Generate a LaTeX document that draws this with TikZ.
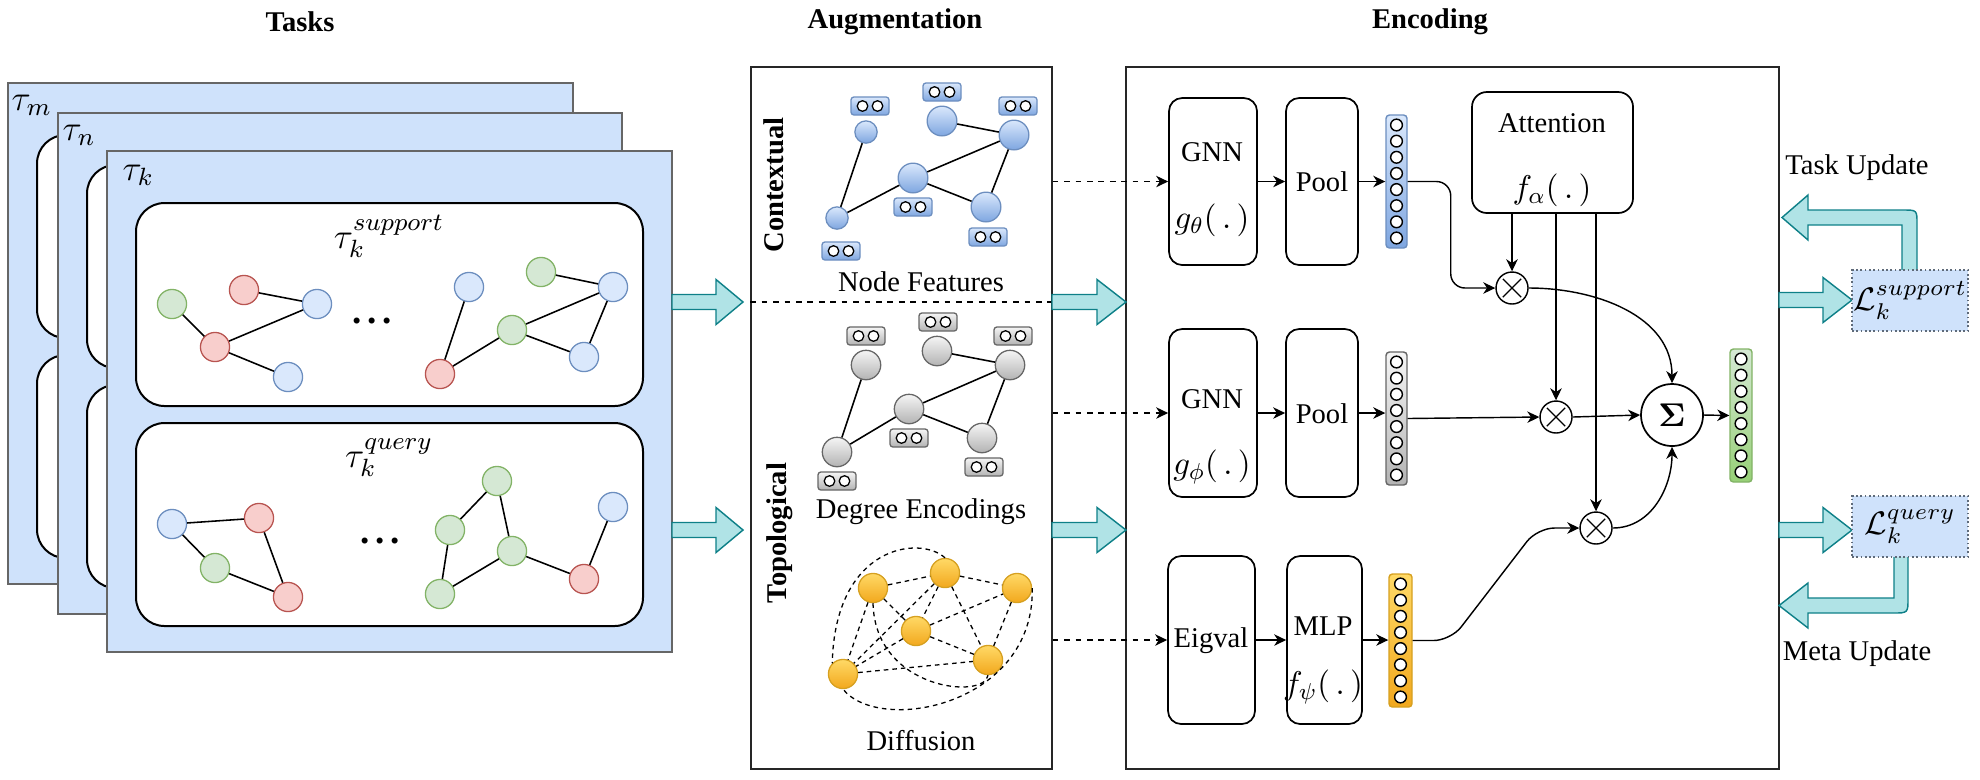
\RequirePackage{fix-cm}
\documentclass[tikz,border=0pt]{standalone}
\usepackage[no-math]{fontspec}
\setmainfont{Liberation Serif}
\usetikzlibrary{arrows.meta,calc,fit}

\definecolor{taskblue}{HTML}{CFE2FB}
\definecolor{taskd}{HTML}{666666}
\definecolor{nbf}{HTML}{DAE8FC}
\definecolor{nbd}{HTML}{6C8EBF}
\definecolor{nrf}{HTML}{F8CECC}
\definecolor{nrd}{HTML}{B85450}
\definecolor{ngf}{HTML}{D5E8D4}
\definecolor{ngd}{HTML}{82B366}
\definecolor{cbtop}{HTML}{DAE8FC}
\definecolor{cbbot}{HTML}{7EA6E0}
\definecolor{grtop}{HTML}{F5F5F5}
\definecolor{grbot}{HTML}{B3B3B3}
\definecolor{grd}{HTML}{666666}
\definecolor{ortop}{HTML}{FFD966}
\definecolor{orbot}{HTML}{F2A81D}
\definecolor{ord}{HTML}{D6A020}
\definecolor{gntop}{HTML}{D5E8D4}
\definecolor{gnbot}{HTML}{97D077}
\definecolor{blkf}{HTML}{B0E3E6}
\definecolor{blkd}{HTML}{0E8088}
\definecolor{lboxd}{HTML}{5F6B7A}

\tikzset{
  taskbox/.style={draw=taskd, fill=taskblue, line width=0.6pt, inner sep=0pt},
  innerbox/.style={draw=black, fill=white, rounded corners=10pt, line width=0.7pt, inner sep=0pt},
  plainbox/.style={draw=black!85, line width=0.5pt, inner sep=0pt},
  procbox/.style={draw=black, line width=0.6pt, rounded corners=4.6pt, inner sep=0pt},
  tn/.style={circle, minimum size=10.2pt, inner sep=0pt, line width=0.45pt},
  tnb/.style={tn, draw=nbd, fill=nbf},
  tnr/.style={tn, draw=nrd, fill=nrf},
  tng/.style={tn, draw=ngd, fill=ngf},
  tedge/.style={line width=0.55pt},
  cbn/.style={circle, inner sep=0pt, draw=nbd, top color=cbtop, bottom color=cbbot, line width=0.45pt},
  cgn/.style={circle, inner sep=0pt, minimum size=10.3pt, draw=grd, top color=grtop, bottom color=grbot, line width=0.45pt},
  con/.style={circle, inner sep=0pt, minimum size=10.2pt, draw=ord, top color=ortop, bottom color=orbot, line width=0.45pt},
  fb/.style={rounded corners=1pt, minimum width=13.3pt, minimum height=6.3pt, inner sep=0pt, line width=0.45pt},
  fbb/.style={fb, draw=nbd, top color=cbtop, bottom color=cbbot},
  fbg/.style={fb, draw=grd, top color=grtop, bottom color=grbot},
  fcirc/.style={circle, draw=black, fill=white, minimum size=3.7pt, inner sep=0pt, line width=0.45pt},
  vecb/.style={draw=nbd, top color=cbtop, bottom color=cbbot, rounded corners=1.2pt, inner sep=0pt, line width=0.5pt},
  vecg/.style={draw=grd, top color=grtop, bottom color=grbot, rounded corners=1.2pt, inner sep=0pt, line width=0.5pt},
  veco/.style={draw=ord, top color=ortop, bottom color=orbot, rounded corners=1.2pt, inner sep=0pt, line width=0.5pt},
  vecn/.style={draw=ngd, top color=gntop, bottom color=gnbot, rounded corners=1.2pt, inner sep=0pt, line width=0.5pt},
  vcirc/.style={circle, draw=black, fill=white, minimum size=4.1pt, inner sep=0pt, line width=0.5pt},
  dedge/.style={line width=0.45pt, dash pattern=on 1.6pt off 1.4pt},
  arr/.style={line width=0.5pt, -{Stealth[length=4.2pt,width=4pt,inset=1.3pt]}},
  darr/.style={arr, dash pattern=on 2pt off 2pt},
  blk/.style={draw=blkd, fill=blkf, line width=0.5pt, line join=miter},
  xnode/.style={circle, draw=black, fill=white, minimum size=11.2pt, inner sep=0pt, line width=0.5pt,
    path picture={\draw[line width=0.45pt]
      ($(path picture bounding box.center)+(-3.2pt,-3.2pt)$) -- ($(path picture bounding box.center)+(3.2pt,3.2pt)$)
      ($(path picture bounding box.center)+(-3.2pt,3.2pt)$) -- ($(path picture bounding box.center)+(3.2pt,-3.2pt)$);}},
  lbox/.style={draw=lboxd, fill=taskblue, dash pattern=on 0.6pt off 0.9pt, line width=0.5pt, inner sep=0pt},
  ttl/.style={font=\fontsize{10}{12}\selectfont\bfseries},
  tlbl/.style={font=\fontsize{12.5}{15}\selectfont},
  mlbl/.style={font=\fontsize{11.5}{14}\selectfont},
  dots/.style={font=\fontsize{13}{13}\selectfont\bfseries, inner sep=0pt},
}

\newcommand\blockarr[4]{%
  \draw[blk] (#1,#2-7.5) -- (#3-#4,#2-7.5) -- (#3-#4,#2-22.5) -- (#3,#2) -- (#3-#4,#2+22.5) -- (#3-#4,#2+7.5) -- (#1,#2+7.5) -- cycle;}
\newcommand\feat[4]{%
  \node[#4] (#1) at (#2,#3) {};
  \node[fcirc] (#1a) at (#2-7.5,#3) {};
  \node[fcirc] (#1b) at (#2+7.5,#3) {};}
\newcommand\vect[6]{%
  \node[#2, fit={(#3,#4) (#5,#6)}] (#1) {};
  \foreach \k in {0,...,7} {\node[vcirc] (#1c\k) at ($(#1.center)+(0,{-56.5+16.14*\k})$) {};}}

\begin{document}
\begin{tikzpicture}[x=0.35pt,y=-0.35pt, font=\fontsize{10}{12}\selectfont]
\useasboundingbox (0,0) rectangle (1980,779);

% ---------- titles
\node[ttl] (tTasks) at (300,22) {Tasks};
\node[ttl] (tAug) at (895,22) {Augmentation};
\node[ttl] (tEnc) at (1430,22) {Encoding};

% ---------- task stack
\node[taskbox, fit={(8,83) (573,584)}] (taum) {};
\node[innerbox, fit={(37,135) (544,338)}] (taumS) {};
\node[innerbox, fit={(37,355) (544,558)}] (taumQ) {};
\node[tlbl, anchor=base west, inner sep=0pt] (taumL) at (11,110) {$\tau_m$};

\node[taskbox, fit={(58,113) (622,614)}] (taun) {};
\node[innerbox, fit={(87,165) (593,368)}] (taunS) {};
\node[innerbox, fit={(87,385) (593,588)}] (taunQ) {};
\node[tlbl, anchor=base west, inner sep=0pt] (taunL) at (62,140) {$\tau_n$};

\node[taskbox, fit={(107,151) (672,652)}] (tauk) {};
\node[innerbox, fit={(136,203) (643,406)}] (taukS) {};
\node[innerbox, fit={(136,423) (643,626)}] (taukQ) {};
\node[tlbl, anchor=base west, inner sep=0pt] (taukL) at (122,180) {$\tau_k$};

\node[tlbl, anchor=base, inner sep=0pt] (supL) at (389,248) {$\tau_k^{support}$};
\node[tlbl, anchor=base, inner sep=0pt] (qryL) at (389,467) {$\tau_k^{query}$};

% support graphs
\node[tng] (s1) at (172,304) {};
\node[tnr] (s2) at (244,290) {};
\node[tnb] (s3) at (317,304) {};
\node[tnr] (s4) at (215,347) {};
\node[tnb] (s5) at (288,377) {};
\node[dots] (sdots) at (372,321) {.\kern2pt.\kern2pt.};
\node[tnb] (s6) at (469,287) {};
\node[tng] (s7) at (541,272) {};
\node[tnb] (s8) at (613,287) {};
\node[tng] (s9) at (512,330) {};
\node[tnb] (s10) at (584,357) {};
\node[tnr] (s11) at (440,374) {};
\draw[tedge] (s1) -- (s4) (s2) -- (s3) (s4) -- (s3) (s4) -- (s5)
  (s6) -- (s11) (s11) -- (s9) (s9) -- (s8) (s7) -- (s8) (s9) -- (s10) (s10) -- (s8);

% query graphs
\node[tnb] (q1) at (172,524) {};
\node[tnr] (q2) at (259,518) {};
\node[tng] (q3) at (215,568) {};
\node[tnr] (q4) at (288,597) {};
\node[dots] (qdots) at (380,541) {.\kern2pt.\kern2pt.};
\node[tng] (q5) at (497,481) {};
\node[tng] (q6) at (450,530) {};
\node[tng] (q7) at (512,551) {};
\node[tng] (q8) at (440,594) {};
\node[tnb] (q9) at (613,507) {};
\node[tnr] (q10) at (584,579) {};
\draw[tedge] (q1) -- (q2) (q1) -- (q3) (q3) -- (q4) (q2) -- (q4)
  (q5) -- (q6) (q5) -- (q7) (q6) -- (q8) (q8) -- (q7) (q7) -- (q10) (q10) -- (q9);

% ---------- augmentation
\node[plainbox, fit={(751,67) (1052,769)}] (aug) {};
\coordinate (divy) at (0,302);
\draw[line width=0.5pt, dash pattern=on 2pt off 2pt] (aug.west |- divy) -- (aug.east |- divy);
\node[font=\fontsize{10}{12}\selectfont\bfseries, rotate=90] (ctx) at (774,185) {Contextual};
\node[font=\fontsize{10}{12}\selectfont\bfseries, rotate=90] (topo) at (780,533) {Topological};

% contextual graph
\node[cbn, minimum size=7.8pt] (c1) at (866,132) {};
\node[cbn, minimum size=10.4pt] (c2) at (942,121) {};
\node[cbn, minimum size=10.4pt] (c3) at (1014,135) {};
\node[cbn, minimum size=10.4pt] (c4) at (913,178) {};
\node[cbn, minimum size=10.4pt] (c5) at (986,207) {};
\node[cbn, minimum size=7.8pt] (c6) at (837,218) {};
\draw[tedge] (c1) -- (c6) (c6) -- (c4) (c4) -- (c3) (c2) -- (c3) (c3) -- (c5) (c4) -- (c5);
\feat{f1}{870}{106}{fbb}
\feat{f2}{942}{92}{fbb}
\feat{f3}{1018}{106}{fbb}
\feat{f4}{913}{207}{fbb}
\feat{f5}{988}{237}{fbb}
\feat{f6}{841}{251}{fbb}
\node (nfT) at (921,282) {Node Features};

% degree graph
\node[cgn] (g1) at (866,365) {};
\node[cgn] (g2) at (937,351) {};
\node[cgn] (g3) at (1010,365) {};
\node[cgn] (g4) at (909,409) {};
\node[cgn] (g5) at (982,438) {};
\node[cgn] (g6) at (837,452) {};
\draw[tedge] (g1) -- (g6) (g6) -- (g4) (g4) -- (g3) (g2) -- (g3) (g3) -- (g5) (g4) -- (g5);
\feat{gf1}{866}{336}{fbg}
\feat{gf2}{938}{322}{fbg}
\feat{gf3}{1013}{336}{fbg}
\feat{gf4}{909}{438}{fbg}
\feat{gf5}{984}{467}{fbg}
\feat{gf6}{837}{481}{fbg}
\node (deT) at (921,512) {Degree Encodings};

% diffusion graph
\node[con] (d1) at (873,588) {};
\node[con] (d2) at (945,573) {};
\node[con] (d3) at (1017,588) {};
\node[con] (d4) at (916,631) {};
\node[con] (d5) at (988,660) {};
\node[con] (d6) at (843,674) {};
\draw[dedge] (d1) -- (d2) (d2) -- (d3) (d1) -- (d4) (d2) -- (d4) (d2) -- (d6) (d1) -- (d6)
  (d4) -- (d3) (d4) -- (d6) (d4) -- (d5) (d2) -- (d5) (d3) -- (d5) (d6) -- (d5);
\draw[dedge] (d1.south) .. controls (875,690) and (985,700) .. (d5.south);
\draw[dedge] (d2.north) .. controls (920,535) and (835,545) .. (d6.north west);
\draw[dedge] (d3.east) .. controls (1035,705) and (880,735) .. (d6.south);
\node (diT) at (921,741) {Diffusion};

% ---------- encoding
\node[plainbox, fit={(1126,67) (1779,769)}] (enc) {};

\node[procbox, fit={(1169,98) (1257,265)}] (gnn1) {};
\node (gnn1T) at (1212,152) {GNN};
\node[mlbl] (gnn1M) at (1212,220) {$g_{\theta}(\,.\,)$};
\node[procbox, fit={(1286,98) (1358,265)}] (pool1) {};
\node (pool1T) at (1322,182) {Pool};
\vect{v1}{vecb}{1386}{115}{1407}{248}

\node[procbox, fit={(1169,329) (1257,497)}] (gnn2) {};
\node (gnn2T) at (1212,399) {GNN};
\node[mlbl] (gnn2M) at (1212,467) {$g_{\phi}(\,.\,)$};
\node[procbox, fit={(1286,329) (1358,497)}] (pool2) {};
\node (pool2T) at (1322,414) {Pool};
\vect{v2}{vecg}{1386}{352}{1407}{485}

\node[procbox, fit={(1168,556) (1255,724)}] (eig) {};
\node (eigT) at (1211,641) {Eigval};
\node[procbox, fit={(1287,556) (1362,724)}] (mlp) {};
\node (mlpT) at (1323,626) {MLP};
\node[mlbl] (mlpM) at (1323,687) {$f_{\psi}(\,.\,)$};
\vect{v3}{veco}{1389}{574}{1412}{707}

\node[procbox, rounded corners=5.2pt, fit={(1472,92) (1633,213)}] (att) {};
\node (attT) at (1552,123) {Attention};
\node[mlbl] (attM) at (1552,190) {$f_{\alpha}(\,.\,)$};

\node[xnode] (x1) at (1512,288) {};
\node[xnode] (x2) at (1556,417) {};
\node[xnode] (x3) at (1596,528) {};
\node[circle, draw=black, fill=white, minimum size=21.7pt, inner sep=0pt, line width=0.6pt,
  font=\fontsize{11.5}{13}\selectfont] (sig) at (1672,415) {$\mathbf{\Sigma}$};
\vect{v4}{vecn}{1730}{349}{1752}{482}

\draw[darr] (aug.east |- gnn1.west) -- (gnn1.west);
\draw[darr] (aug.east |- gnn2.west) -- (gnn2.west);
\draw[darr] (aug.east |- eig.west) -- (eig.west);
\draw[arr] (gnn1.east) -- (pool1.west);
\draw[arr] (pool1.east) -- (v1.west);
\draw[arr] (gnn2.east) -- (pool2.west);
\draw[arr] (pool2.east) -- (pool2.east -| v2.west);
\draw[arr] (eig.east) -- (mlp.west);
\draw[arr] (mlp.east) -- (mlp.east -| v3.west);
\draw[arr, rounded corners=5pt] (v1.east) -- ++(43,0) |- (x1.west);
\draw[arr] (v2.east) -- (x2.west);
\draw[arr, rounded corners=6pt] (v3.east) -- ++(38,0) -- ($(x3.west)+(-42,0)$) -- (x3.west);
\draw[arr] (x1 |- att.south) -- (x1.north);
\draw[arr] (x2 |- att.south) -- (x2.north);
\draw[arr] (x3 |- att.south) -- (x3.north);
\draw[arr] (x1.east) to[out=0,in=90] (sig.north);
\draw[arr] (x2.east) -- (sig.west);
\draw[arr] (x3.east) to[out=0,in=-90] (sig.south);
\draw[arr] (sig.east) -- (v4.west);

% ---------- block arrows
\blockarr{672}{302}{743}{27}
\blockarr{672}{530}{743}{27}
\blockarr{1052}{302}{1126}{29}
\blockarr{1052}{530}{1126}{29}
\blockarr{1779}{300}{1852}{29}
\blockarr{1779}{530}{1852}{29}
\draw[blk] (1902,271) -- (1902,225) -- (1808,225) -- (1808,240) -- (1782,217.5) -- (1808,195) -- (1808,210)
  -- (1903,210) .. controls (1917,210) .. (1917,224) -- (1917,271) -- cycle;
\draw[blk] (1894,556) -- (1894,598) -- (1808,598) -- (1808,583) -- (1779,605.5) -- (1808,628) -- (1808,613)
  -- (1893,613) .. controls (1908,613) .. (1908,598) -- (1908,556) -- cycle;

% ---------- losses
\node[lbox, fit={(1852,270) (1968,331)}] (Ls) {};
\node[font=\fontsize{11.4}{13}\selectfont, inner sep=0pt] (LsT) at (Ls.center) {$\mathcal{L}_k^{support}$};
\node[lbox, fit={(1852,496) (1968,557)}] (Lq) {};
\node[font=\fontsize{11.4}{13}\selectfont, inner sep=0pt] (LqT) at (Lq.center) {$\mathcal{L}_k^{query}$};
\node (tuT) at (1857,168) {Task Update};
\node (muT) at (1857,654) {Meta Update};

\end{tikzpicture}
\end{document}
